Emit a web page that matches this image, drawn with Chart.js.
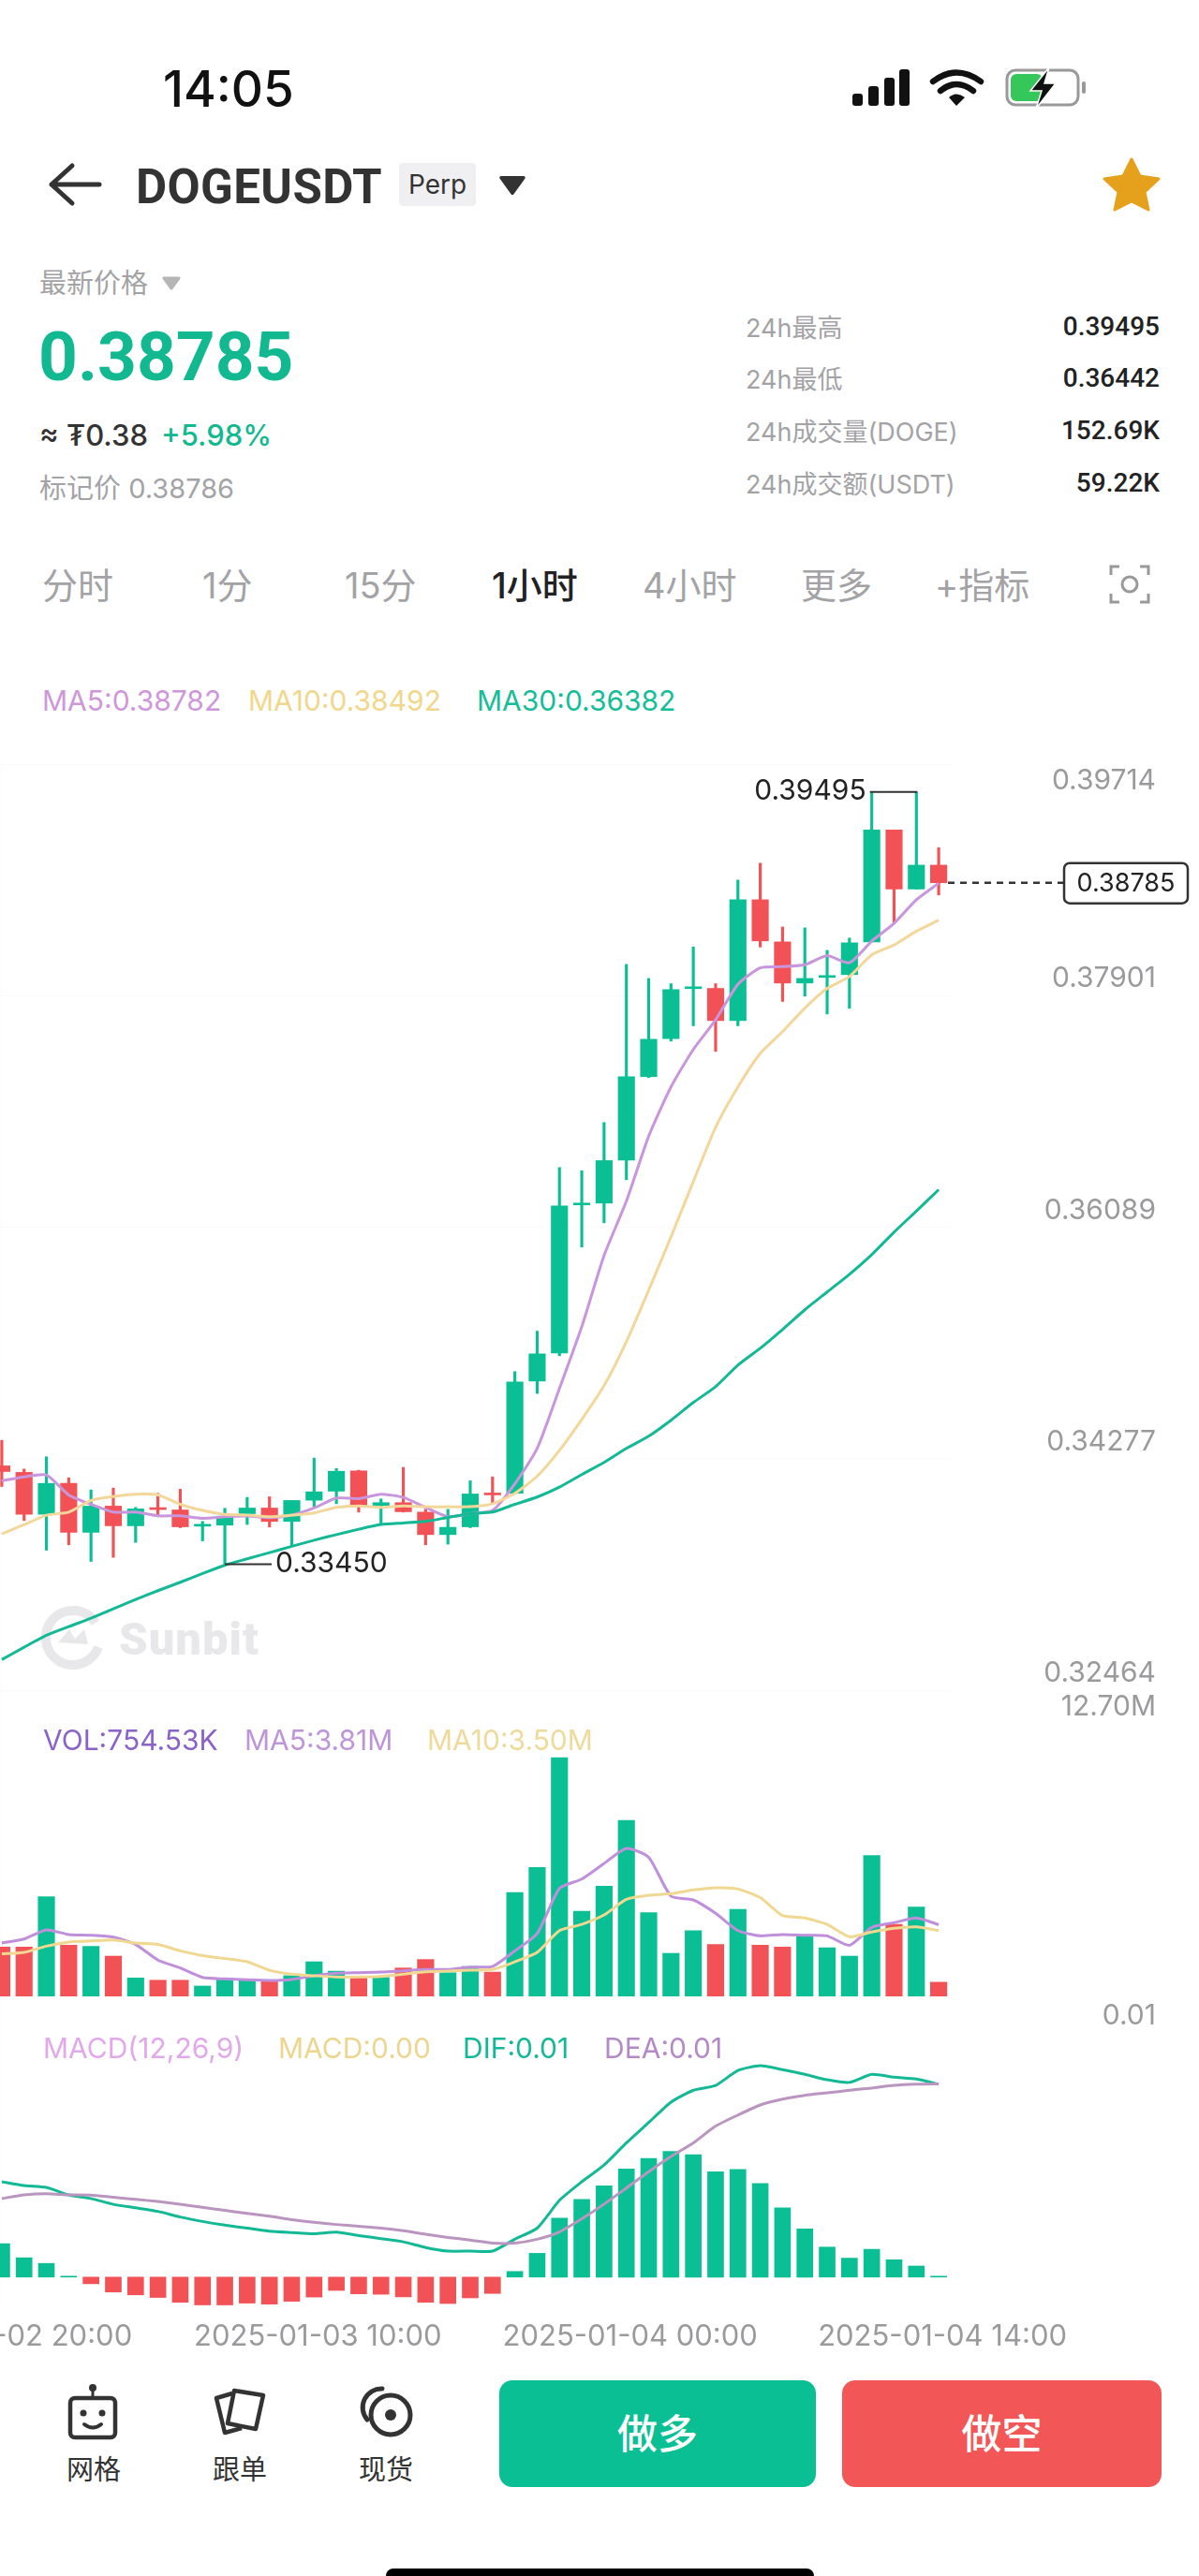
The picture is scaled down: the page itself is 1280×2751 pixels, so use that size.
<!DOCTYPE html>
<html>
<head>
<meta charset="utf-8">
<title>DOGEUSDT</title>
<script src="https://cdn.jsdelivr.net/npm/chart.js@4/dist/chart.umd.min.js"></script>
<style>
html, body { margin: 0; padding: 0; background: #fff; }
body { position: relative; width: 1280px; height: 2751px; overflow: hidden; font-family: Inter, "Noto Sans CJK SC", sans-serif; }
.t { position: absolute; white-space: nowrap; transform: translateY(-50%); }
.gray { color: #a3a3a6; }
.r { transform: translate(-100%, -50%); }
.c { transform: translate(-50%, -50%); }
canvas { position: absolute; left: -10px; }
svg { position: absolute; }
.btn { position: absolute; top: 2542px; height: 114px; border-radius: 14px; color: #fff; font-size: 43px; font-weight: 500; line-height: 114px; text-align: center; }
.val { font-family: Roboto; font-size: 28px; font-weight: 500; color: #222; }
</style>
</head>
<body>

<div class="t" style="left:174px;top:95px;font-size:53px;font-weight:500;color:#111">14:05</div>
<svg style="left:908px;top:72px" width="256" height="44" viewBox="0 0 256 44">
  <rect x="2" y="28" width="11" height="13" rx="3" fill="#111"/><rect x="19" y="20" width="11" height="21" rx="3" fill="#111"/>
  <rect x="36" y="11" width="11" height="30" rx="3" fill="#111"/><rect x="52" y="2" width="11" height="39" rx="3" fill="#111"/>
  <path d="M88 15 Q113 -4 139 15" fill="none" stroke="#111" stroke-width="6.5" stroke-linecap="round"/>
  <path d="M96 25 Q113 11 131 25" fill="none" stroke="#111" stroke-width="6.5" stroke-linecap="round"/>
  <path d="M105 32 L113 41 L122 32 Q113 25 105 32 Z" fill="#111"/>
  <rect x="167" y="3" width="76" height="37" rx="9" fill="#fff" stroke="#999" stroke-width="3"/>
  <rect x="171" y="7" width="34" height="29" rx="6" fill="#35c759"/>
  <rect x="247" y="15" width="4" height="13" rx="2" fill="#999"/>
  <path d="M212 0 L192 25 H204 L198 44 L219 17 H207 Z" fill="#111" stroke="#fff" stroke-width="1.5"/>
</svg>

<svg style="left:50px;top:172px" width="60" height="50" viewBox="0 0 60 50">
  <path d="M27 5 L5 25 L27 45 M5 25 H56" fill="none" stroke="#333" stroke-width="5" stroke-linecap="round" stroke-linejoin="round"/>
</svg>
<div class="t" style="left:145px;top:199px;font-family:Roboto;font-size:51px;font-weight:700;color:#333;letter-spacing:.4px">DOGEUSDT</div>
<div class="t" style="left:426px;top:197px;width:82px;height:46px;line-height:46px;background:#f0f0f2;border-radius:4px;text-align:center;font-size:28px;color:#333">Perp</div>
<svg style="left:532px;top:187px" width="30" height="22" viewBox="0 0 32 24"><path d="M3 3 H29 L16 21 Z" fill="#333" stroke="#333" stroke-width="4" stroke-linejoin="round"/></svg>
<svg style="left:1176px;top:166px" width="64" height="60" viewBox="0 0 64 60"><path d="M32 4 L41 22 L61 25 L46 39 L50 58 L32 49 L14 58 L18 39 L3 25 L23 22 Z" fill="#e5a11b" stroke="#e5a11b" stroke-width="3" stroke-linejoin="round"/></svg>

<div class="t gray" style="left:42px;top:300px;font-size:29px">最新价格</div>
<svg style="left:172px;top:294px" width="22" height="16" viewBox="0 0 22 16"><path d="M3 3 H19 L11 14 Z" fill="#b5b5b5" stroke="#b5b5b5" stroke-width="3" stroke-linejoin="round"/></svg>
<div class="t" style="left:41px;top:381px;font-family:Roboto;font-size:73px;font-weight:700;color:#12b88f">0.38785</div>
<div class="t" style="left:42px;top:464px;font-size:31px;font-weight:500;color:#333">≈ ₮0.38</div>
<div class="t" style="left:172px;top:464px;font-size:31px;font-weight:500;color:#12b88f">+5.98%</div>
<div class="t gray" style="left:42px;top:519px;font-size:29px">标记价 0.38786</div>

<div class="t gray" style="left:796px;top:348px;font-size:27px">24h最高</div>
<div class="t gray" style="left:796px;top:403px;font-size:27px">24h最低</div>
<div class="t gray" style="left:796px;top:459px;font-size:27px">24h成交量(DOGE)</div>
<div class="t gray" style="left:796px;top:515px;font-size:27px">24h成交额(USDT)</div>
<div class="t r val" style="left:1238px;top:348px">0.39495</div>
<div class="t r val" style="left:1238px;top:403px">0.36442</div>
<div class="t r val" style="left:1238px;top:459px">152.69K</div>
<div class="t r val" style="left:1238px;top:515px">59.22K</div>

<div class="t gray" style="left:45px;top:622px;font-size:38px">分时</div>
<div class="t gray" style="left:216px;top:622px;font-size:38px">1分</div>
<div class="t gray" style="left:368px;top:622px;font-size:38px">15分</div>
<div class="t" style="left:525px;top:622px;font-size:38px;font-weight:500;color:#222">1小时</div>
<div class="t gray" style="left:686px;top:622px;font-size:38px">4小时</div>
<div class="t gray" style="left:855px;top:622px;font-size:38px">更多</div>
<div class="t gray" style="left:998px;top:622px;font-size:38px">+指标</div>
<svg style="left:1184px;top:603px" width="44" height="42" viewBox="0 0 44 42">
  <path d="M2 11 V2 H11 M33 2 H42 V11 M42 31 V40 H33 M11 40 H2 V31" fill="none" stroke="#999" stroke-width="3"/>
  <circle cx="22" cy="21" r="8" fill="none" stroke="#999" stroke-width="3"/>
</svg>

<!-- watermark sits below the chart canvas -->
<svg style="left:44px;top:1714px" width="68" height="70" viewBox="0 0 68 70">
  <path d="M58 19 A29 29 0 1 0 61 45" fill="none" stroke="#e8e8ea" stroke-width="10"/>
  <path d="M18 40 L30 26 L36 36 L46 26 L50 42 Z" fill="#e8e8ea"/>
</svg>
<div class="t" style="left:127px;top:1750px;font-family:Roboto;font-size:49px;font-weight:900;color:#e8e8ea;letter-spacing:1px">Sunbit</div>

<canvas id="price-chart" width="1290" height="989" style="top:816px;width:1290px;height:989px"></canvas>
<canvas id="vol-chart" width="1290" height="327" style="top:1805px;width:1290px;height:327px"></canvas>
<canvas id="macd-chart" width="1290" height="377" style="top:2133px;width:1290px;height:377px"></canvas>

<div class="t" style="left:45px;top:748px;font-size:30px;color:#cf97da">MA5:0.38782</div>
<div class="t" style="left:265px;top:748px;font-size:30px;color:#f1d78b">MA10:0.38492</div>
<div class="t" style="left:509px;top:748px;font-size:30px;color:#15bd98">MA30:0.36382</div>

<div class="t" style="left:46px;top:1858px;font-size:30px;color:#8a63c8">VOL:754.53K</div>
<div class="t" style="left:261px;top:1858px;font-size:30px;color:#bd95d8">MA5:3.81M</div>
<div class="t" style="left:456px;top:1858px;font-size:30px;color:#eedb9c">MA10:3.50M</div>

<div class="t" style="left:46px;top:2187px;font-size:30px;color:#e2a9ea">MACD(12,26,9)</div>
<div class="t" style="left:297px;top:2187px;font-size:30px;color:#ecd68f">MACD:0.00</div>
<div class="t" style="left:494px;top:2187px;font-size:30px;color:#13b896">DIF:0.01</div>
<div class="t" style="left:645px;top:2187px;font-size:30px;color:#b48ac6">DEA:0.01</div>

<svg style="left:70px;top:2544px" width="58" height="62" viewBox="0 0 58 62">
  <circle cx="29" cy="6" r="4" fill="#333"/><path d="M29 8 V16" stroke="#333" stroke-width="3"/>
  <rect x="5" y="17" width="48" height="42" rx="5" fill="none" stroke="#333" stroke-width="4.5"/>
  <circle cx="19" cy="33" r="3.5" fill="#333"/><circle cx="39" cy="33" r="3.5" fill="#333"/>
  <path d="M20 45 Q29 52 38 45" fill="none" stroke="#333" stroke-width="4" stroke-linecap="round"/>
</svg>
<svg style="left:226px;top:2548px" width="60" height="56" viewBox="0 0 60 56">
  <path d="M22 8 L5 13 L14 50 L32 45" fill="none" stroke="#333" stroke-width="4.5" stroke-linejoin="round"/>
  <path d="M24 5 L55 10 L47 46 L17 40 Z" fill="#fff" stroke="#333" stroke-width="4.5" stroke-linejoin="round"/>
</svg>
<svg style="left:384px;top:2548px" width="60" height="56" viewBox="0 0 60 56">
  <circle cx="33" cy="31" r="21" fill="none" stroke="#333" stroke-width="5"/>
  <path d="M8 36 A20 20 0 0 1 24 3" fill="none" stroke="#333" stroke-width="5" stroke-linecap="round"/>
  <circle cx="33" cy="31" r="6" fill="#333"/>
</svg>
<div class="t c" style="left:100px;top:2635px;font-size:29px;color:#333">网格</div>
<div class="t c" style="left:256px;top:2635px;font-size:29px;color:#333">跟单</div>
<div class="t c" style="left:412px;top:2635px;font-size:29px;color:#333">现货</div>
<div class="btn" style="left:533px;width:338px;background:#0bbf94">做多</div>
<div class="btn" style="left:899px;width:341px;background:#f25656">做空</div>
<div style="position:absolute;left:412px;top:2743px;width:457px;height:12px;background:#000;border-radius:8px 8px 0 0"></div>

<script>
const times = ["2025-01-02 20:00", "2025-01-02 21:00", "2025-01-02 22:00", "2025-01-02 23:00", "2025-01-03 00:00", "2025-01-03 01:00", "2025-01-03 02:00", "2025-01-03 03:00", "2025-01-03 04:00", "2025-01-03 05:00", "2025-01-03 06:00", "2025-01-03 07:00", "2025-01-03 08:00", "2025-01-03 09:00", "2025-01-03 10:00", "2025-01-03 11:00", "2025-01-03 12:00", "2025-01-03 13:00", "2025-01-03 14:00", "2025-01-03 15:00", "2025-01-03 16:00", "2025-01-03 17:00", "2025-01-03 18:00", "2025-01-03 19:00", "2025-01-03 20:00", "2025-01-03 21:00", "2025-01-03 22:00", "2025-01-03 23:00", "2025-01-04 00:00", "2025-01-04 01:00", "2025-01-04 02:00", "2025-01-04 03:00", "2025-01-04 04:00", "2025-01-04 05:00", "2025-01-04 06:00", "2025-01-04 07:00", "2025-01-04 08:00", "2025-01-04 09:00", "2025-01-04 10:00", "2025-01-04 11:00", "2025-01-04 12:00", "2025-01-04 13:00", "2025-01-04 14:00"];

const opens = [0.34220, 0.34169, 0.33841, 0.34083, 0.33700, 0.33905, 0.33751, 0.33885, 0.33875, 0.33748, 0.33756, 0.33846, 0.33890, 0.33785, 0.33951, 0.34022, 0.34181, 0.33910, 0.33932, 0.33858, 0.33682, 0.33743, 0.33998, 0.34005, 0.34884, 0.35104, 0.36263, 0.36277, 0.36614, 0.37267, 0.37564, 0.37956, 0.37958, 0.37706, 0.38652, 0.38322, 0.38000, 0.38044, 0.38066, 0.38322, 0.39198, 0.38736, 0.38923];
const closes = [0.34176, 0.33841, 0.34083, 0.33700, 0.33905, 0.33751, 0.33883, 0.33878, 0.33743, 0.33753, 0.33826, 0.33890, 0.33785, 0.33949, 0.34017, 0.34178, 0.33902, 0.33932, 0.33861, 0.33682, 0.33739, 0.34000, 0.33993, 0.34877, 0.35097, 0.36255, 0.36270, 0.36610, 0.37267, 0.37560, 0.37948, 0.37963, 0.37706, 0.38652, 0.38330, 0.38000, 0.38036, 0.38058, 0.38315, 0.39198, 0.38736, 0.38923, 0.38785];
const highs = [0.34420, 0.34195, 0.34291, 0.34127, 0.34032, 0.34046, 0.33895, 0.34005, 0.34037, 0.33785, 0.33888, 0.33973, 0.33978, 0.33949, 0.34281, 0.34200, 0.34186, 0.33961, 0.34208, 0.33880, 0.33880, 0.34103, 0.34134, 0.34958, 0.35275, 0.36556, 0.36530, 0.36908, 0.38146, 0.38036, 0.37995, 0.38282, 0.37995, 0.38806, 0.38938, 0.38439, 0.38432, 0.38256, 0.38352, 0.39495, 0.39198, 0.39495, 0.39060];
const lows = [0.34059, 0.33792, 0.33560, 0.33602, 0.33472, 0.33504, 0.33621, 0.33822, 0.33736, 0.33633, 0.33450, 0.33761, 0.33741, 0.33597, 0.33900, 0.33924, 0.33858, 0.33756, 0.33858, 0.33602, 0.33607, 0.33736, 0.33919, 0.34000, 0.34787, 0.35082, 0.35933, 0.36123, 0.36460, 0.37260, 0.37545, 0.37665, 0.37465, 0.37665, 0.38282, 0.37856, 0.37897, 0.37758, 0.37802, 0.38322, 0.38469, 0.38736, 0.38689];

const ma5 = [0.34103, 0.34134, 0.34149, 0.33993, 0.33919, 0.33858, 0.33858, 0.33829, 0.33829, 0.33809, 0.33822, 0.33827, 0.33814, 0.33834, 0.33890, 0.33968, 0.33963, 0.33998, 0.33973, 0.33895, 0.33822, 0.33846, 0.33871, 0.34080, 0.34357, 0.34826, 0.35310, 0.35867, 0.36292, 0.36801, 0.37187, 0.37480, 0.37712, 0.37989, 0.38119, 0.38128, 0.38143, 0.38214, 0.38159, 0.38328, 0.38467, 0.38652, 0.38782];
const ma10 = [0.33687, 0.33760, 0.33834, 0.33858, 0.33949, 0.33980, 0.33998, 0.33993, 0.33919, 0.33871, 0.33841, 0.33834, 0.33822, 0.33834, 0.33851, 0.33895, 0.33907, 0.33895, 0.33907, 0.33900, 0.33900, 0.33900, 0.33924, 0.34005, 0.34139, 0.34342, 0.34584, 0.34848, 0.35192, 0.35595, 0.36013, 0.36446, 0.36871, 0.37187, 0.37449, 0.37619, 0.37804, 0.37958, 0.38051, 0.38221, 0.38298, 0.38406, 0.38492];
const ma30 = [0.32703, 0.32800, 0.32893, 0.32961, 0.33028, 0.33101, 0.33174, 0.33243, 0.33309, 0.33377, 0.33443, 0.33492, 0.33541, 0.33590, 0.33638, 0.33682, 0.33724, 0.33761, 0.33773, 0.33785, 0.33817, 0.33846, 0.33858, 0.33919, 0.33976, 0.34054, 0.34152, 0.34247, 0.34357, 0.34452, 0.34577, 0.34716, 0.34840, 0.35009, 0.35141, 0.35288, 0.35442, 0.35581, 0.35720, 0.35874, 0.36050, 0.36215, 0.36382];

// millions
const volume = [2.62, 2.62, 5.30, 2.72, 2.66, 2.14, 0.98, 0.86, 0.86, 0.55, 0.98, 0.85, 0.80, 1.10, 1.84, 1.34, 0.98, 1.01, 1.51, 1.96, 1.26, 1.59, 1.29, 5.53, 6.86, 12.70, 4.53, 5.86, 9.36, 4.45, 2.29, 3.50, 2.76, 4.63, 2.72, 2.62, 3.20, 2.59, 2.14, 7.49, 3.83, 4.75, 0.75453];
const volMa5 = [2.84, 3.05, 3.54, 3.29, 3.25, 3.15, 2.76, 1.93, 1.51, 1.01, 0.93, 0.88, 0.85, 0.90, 1.10, 1.23, 1.26, 1.29, 1.36, 1.43, 1.43, 1.56, 1.59, 2.42, 3.34, 5.74, 6.24, 7.07, 7.87, 7.40, 5.33, 5.13, 4.42, 3.50, 3.22, 3.29, 3.25, 3.22, 2.72, 3.67, 3.92, 4.17, 3.81];
const volMa10 = [2.26, 2.34, 2.67, 2.89, 2.95, 3.00, 2.84, 2.76, 2.42, 2.17, 2.01, 1.84, 1.39, 1.18, 1.10, 1.03, 1.03, 1.06, 1.18, 1.31, 1.34, 1.39, 1.43, 1.84, 2.34, 3.50, 3.83, 4.33, 5.16, 5.38, 5.46, 5.66, 5.78, 5.71, 5.25, 4.30, 4.17, 3.83, 3.17, 3.42, 3.62, 3.70, 3.50];

const macdBars = [0.00166, 0.00096, 0.00068, 0.00002, -0.00033, -0.00074, -0.00088, -0.00101, -0.00125, -0.00138, -0.00138, -0.00129, -0.00134, -0.00120, -0.00099, -0.00066, -0.00083, -0.00085, -0.00098, -0.00125, -0.00131, -0.00103, -0.00081, 0.00028, 0.00118, 0.00293, 0.00385, 0.00453, 0.00537, 0.00589, 0.00624, 0.00607, 0.00523, 0.00534, 0.00464, 0.00344, 0.00239, 0.00149, 0.00094, 0.00138, 0.00086, 0.00055, 0.00004];
const dif = [0.00473, 0.00454, 0.00445, 0.00408, 0.00390, 0.00361, 0.00344, 0.00326, 0.00298, 0.00276, 0.00258, 0.00243, 0.00228, 0.00221, 0.00215, 0.00223, 0.00206, 0.00191, 0.00175, 0.00147, 0.00129, 0.00129, 0.00129, 0.00188, 0.00243, 0.00381, 0.00473, 0.00556, 0.00666, 0.00767, 0.00868, 0.00927, 0.00951, 0.01025, 0.01049, 0.01029, 0.01006, 0.00979, 0.00966, 0.01006, 0.00992, 0.00983, 0.00957];
const dea = [0.00390, 0.00408, 0.00414, 0.00408, 0.00407, 0.00396, 0.00386, 0.00375, 0.00361, 0.00346, 0.00331, 0.00316, 0.00302, 0.00285, 0.00272, 0.00261, 0.00252, 0.00243, 0.00230, 0.00213, 0.00197, 0.00184, 0.00169, 0.00169, 0.00188, 0.00224, 0.00289, 0.00362, 0.00442, 0.00523, 0.00598, 0.00666, 0.00749, 0.00804, 0.00854, 0.00883, 0.00902, 0.00914, 0.00927, 0.00938, 0.00951, 0.00957, 0.00959];

const priceTicks = [0.39714, 0.37901, 0.36089, 0.34277, 0.32464];

const GREEN = "#0bbf94";
const RED = "#f25256";
const TICK_GRAY = "#9a9a9d";
const GRID = "#fbfbfb";

const candleColors = opens.map((o, i) => closes[i] < o ? RED : GREEN);
const volumeColors = candleColors;
const macdColors = macdBars.map(v => v < 0 ? RED : GREEN);

function line(data, color, width) {
    return { type: "line", data, borderColor: color, borderWidth: width || 3, pointRadius: 0, tension: 0.2, fill: false, order: 0 };
}

function zeroPadding(scale) {
    scale.paddingLeft = 0;
    scale.paddingRight = 0;
    scale.paddingTop = 0;
    scale.paddingBottom = 0;
}

function baseOptions(yMin, yMax, yTicks, tickLabel, lineHeight, showDates) {
    return {
        responsive: false,
        animation: false,
        // the labels end at the right margin, the plot stops at 1024
        layout: { padding: { right: 46 } },
        plugins: { legend: { display: false }, tooltip: { enabled: false } },
        datasets: { bar: { grouped: false, categoryPercentage: 1, barPercentage: 1 } },
        scales: {
            x: {
                offset: true,
                border: { display: false },
                grid: { offset: false, drawTicks: false, color: c => c.index % 14 === 0 ? GRID : "transparent" },
                ticks: {
                    display: showDates,
                    autoSkip: false,
                    maxRotation: 0,
                    padding: 14,
                    labelOffset: 4,
                    color: TICK_GRAY,
                    font: { family: "Inter", size: 31 },
                    callback(v, i) { return i % 14 === 0 ? times[i] : null; }
                },
                afterFit(scale) {
                    zeroPadding(scale);
                    scale.height = showDates ? 47 : 0;
                }
            },
            y: {
                position: "right",
                min: yMin,
                max: yMax,
                border: { display: false },
                grid: { drawTicks: false, color: GRID },
                afterBuildTicks(scale) { scale.ticks = yTicks.map(value => ({ value })); },
                afterFit(scale) {
                    zeroPadding(scale);
                    scale.width = 220;
                },
                ticks: {
                    autoSkip: false,
                    crossAlign: "far",
                    color: TICK_GRAY,
                    font: { family: "Inter", size: 30, lineHeight: lineHeight / 30 },
                    callback: tickLabel
                }
            }
        }
    };
}

// high, low and last price markers on the candles
const priceMarks = {
    id: "priceMarks",
    afterDraw(chart) {
        const { ctx, scales: { x, y } } = chart;
        ctx.save();
        ctx.font = "30px Inter";
        ctx.fillStyle = "#222";
        ctx.strokeStyle = "#333";
        ctx.lineWidth = 2;
        ctx.textBaseline = "middle";

        const high = Math.max(...highs);
        const highAt = highs.indexOf(high);
        const highEnd = highs.lastIndexOf(high);
        ctx.beginPath();
        ctx.moveTo(x.getPixelForValue(highAt) - 2, y.getPixelForValue(high));
        ctx.lineTo(x.getPixelForValue(highEnd) + 1, y.getPixelForValue(high));
        ctx.stroke();
        ctx.textAlign = "right";
        ctx.fillText(high.toFixed(5), x.getPixelForValue(highAt) - 6, y.getPixelForValue(high) - 1);

        const low = Math.min(...lows);
        const lowX = x.getPixelForValue(lows.indexOf(low));
        ctx.beginPath();
        ctx.moveTo(lowX, y.getPixelForValue(low));
        ctx.lineTo(lowX + 50, y.getPixelForValue(low));
        ctx.stroke();
        ctx.textAlign = "left";
        ctx.fillText(low.toFixed(5), lowX + 54, y.getPixelForValue(low) - 1);

        const last = closes[closes.length - 1];
        const lastY = y.getPixelForValue(last);
        ctx.setLineDash([7, 6]);
        ctx.lineWidth = 2.5;
        ctx.beginPath();
        ctx.moveTo(1022, lastY);
        ctx.lineTo(1146, lastY);
        ctx.stroke();
        ctx.setLineDash([]);
        ctx.beginPath();
        ctx.roundRect(1146, lastY - 21, 132, 43, 6);
        ctx.fillStyle = "#fff";
        ctx.fill();
        ctx.stroke();
        ctx.fillStyle = "#222";
        ctx.textAlign = "center";
        ctx.font = "27px Inter";
        ctx.fillText(last.toFixed(5), 1212, lastY + 1);
        ctx.restore();
    }
};

new Chart(document.getElementById("price-chart").getContext("2d"), {
    type: "bar",
    data: {
        labels: times,
        datasets: [
            line(ma30, "#13b995"),
            line(ma10, "#f3d79a"),
            line(ma5, "#c995dc"),
            { data: opens.map((o, i) => [o, closes[i]]), backgroundColor: candleColors, barThickness: 17.5, minBarLength: 2, order: 1 },
            { data: lows.map((l, i) => [l, highs[i]]), backgroundColor: candleColors, barThickness: 2.5, order: 2 }
        ]
    },
    options: baseOptions(0.32464, 0.39714, priceTicks,
        v => v === priceTicks[0] ? ["", v.toFixed(5)] : [v.toFixed(5), ""], 36, false),
    plugins: [priceMarks]
});

const volTop = 327 / 20.08;
new Chart(document.getElementById("vol-chart").getContext("2d"), {
    type: "bar",
    data: {
        labels: times,
        datasets: [
            line(volMa10, "#f0d890"),
            line(volMa5, "#bf8fdc"),
            { data: volume, backgroundColor: volumeColors, barThickness: 17.5, order: 1 }
        ]
    },
    options: baseOptions(0, volTop, [volTop],
        () => ["", Math.max(...volume).toFixed(2) + "M"], 36, false)
});

const macdTop = 298.8 / 21524;
const macdBottom = -31.2 / 21524;
new Chart(document.getElementById("macd-chart").getContext("2d"), {
    type: "bar",
    data: {
        labels: times,
        datasets: [
            line(dea, "#ba95bf"),
            line(dif, "#13b995"),
            { data: macdBars, backgroundColor: macdColors, barThickness: 17, minBarLength: 1, order: 1 }
        ]
    },
    options: baseOptions(macdBottom, macdTop, [macdTop],
        () => ["", Math.max(...dif).toFixed(2)], 40, true)
});
</script>
</body>
</html>
